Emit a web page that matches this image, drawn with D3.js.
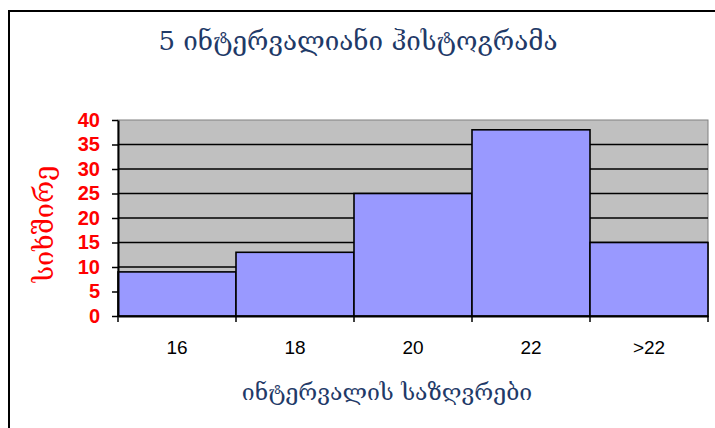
<!DOCTYPE html>
<html>
<head>
<meta charset="utf-8">
<script src="https://cdn.jsdelivr.net/npm/d3@7"></script>
<style>
  html, body { margin: 0; padding: 0; background: #fff; }
  svg { display: block; }
</style>
</head>
<body>
<svg id="chart" width="715" height="428"></svg>
<script>
// Histogram of five intervals
const categories = ["16", "18", "20", "22", ">22"];
const counts = [9, 13, 25, 38, 15];
const yTicks = [0, 5, 10, 15, 20, 25, 30, 35, 40];
const titleText = "5 ინტერვალიანი ჰისტოგრამა";
const xTitle = "ინტერვალის საზღვრები";
const yTitle = "სიხშირე";

const svg = d3.select("#chart");
const georgian = "'DejaVu Serif', 'DejaVu Sans', serif";
const plotLeft = 118, plotRight = 708, plotTop = 120, plotBottom = 316;

// chart frame (left and top edges visible)
svg.append("path")
  .attr("d", `M9,430 L9,11 L720,11`)
  .attr("fill", "none").attr("stroke", "#000").attr("stroke-width", 2);

const x = d3.scaleBand().domain(categories).range([plotLeft, plotRight]).padding(0);
const y = d3.scaleLinear().domain([0, 40]).range([plotBottom, plotTop]);

// plot area
svg.append("rect")
  .attr("x", plotLeft).attr("y", plotTop)
  .attr("width", plotRight - plotLeft).attr("height", plotBottom - plotTop)
  .attr("fill", "#c0c0c0").attr("stroke", "#808080").attr("stroke-width", 1);

// horizontal gridlines
svg.append("g").selectAll("line")
  .data(yTicks.filter(d => d > 0 && d < 40))
  .join("line")
  .attr("x1", plotLeft).attr("x2", plotRight)
  .attr("y1", d => y(d)).attr("y2", d => y(d))
  .attr("stroke", "#000").attr("stroke-width", 1.5);

// bars
svg.append("g").selectAll("rect")
  .data(counts)
  .join("rect")
  .attr("x", (d, i) => x(categories[i]))
  .attr("y", d => y(d))
  .attr("width", x.bandwidth())
  .attr("height", d => y(0) - y(d))
  .attr("fill", "#9999ff").attr("stroke", "#000").attr("stroke-width", 1.6);

// y axis
const yAxis = svg.append("g")
  .attr("transform", `translate(${plotLeft},0)`)
  .call(d3.axisLeft(y).tickValues(yTicks).tickSize(6).tickSizeOuter(0).tickPadding(12));
yAxis.select(".domain").attr("stroke", "#000").attr("stroke-width", 2);
yAxis.selectAll(".tick line").attr("stroke", "#000").attr("stroke-width", 1.5);
yAxis.selectAll(".tick text")
  .attr("fill", "#ff0000")
  .attr("font-family", "'Liberation Sans', Arial, sans-serif")
  .attr("font-weight", "bold").attr("font-size", 20);

// x axis: labels centred under bars, ticks on bar boundaries
const xAxis = svg.append("g")
  .attr("transform", `translate(0,${plotBottom})`)
  .call(d3.axisBottom(x).tickSize(0).tickSizeOuter(0).tickPadding(25));
xAxis.select(".domain").attr("stroke", "#000").attr("stroke-width", 2);
xAxis.selectAll(".tick text")
  .attr("fill", "#000")
  .attr("font-family", "'Liberation Sans', Arial, sans-serif")
  .attr("font-size", 19);
const edges = categories.map(c => x(c)).concat([x.range()[1]]);
xAxis.append("g").selectAll("line")
  .data(edges)
  .join("line")
  .attr("x1", d => d).attr("x2", d => d)
  .attr("y1", 0).attr("y2", 6)
  .attr("stroke", "#000").attr("stroke-width", 1.5);

// titles
svg.append("text")
  .attr("x", 358).attr("y", 50)
  .attr("text-anchor", "middle")
  .attr("font-family", georgian).attr("font-size", 26)
  .attr("fill", "#1f3a68")
  .text(titleText);

svg.append("text")
  .attr("x", 387).attr("y", 400)
  .attr("text-anchor", "middle")
  .attr("font-family", georgian).attr("font-size", 23)
  .attr("fill", "#1f3a68")
  .text(xTitle);

svg.append("text")
  .attr("transform", "translate(53,224) rotate(-90)")
  .attr("text-anchor", "middle")
  .attr("font-family", georgian).attr("font-size", 27)
  .attr("fill", "#ff0000")
  .text(yTitle);
</script>
</body>
</html>
